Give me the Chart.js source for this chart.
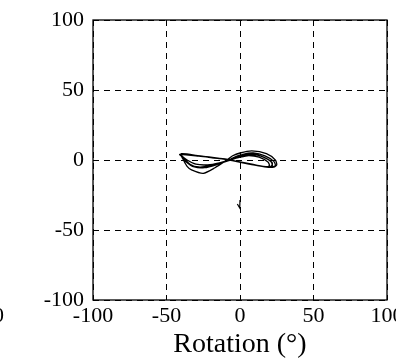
<!DOCTYPE html>
<html>
<head>
<meta charset="utf-8">
<script src="https://cdn.jsdelivr.net/npm/chart.js@4/dist/chart.umd.min.js"></script>
<style>
  html, body { margin: 0; padding: 0; background: #fff; overflow: hidden; }
  #wrap { width: 396px; height: 362px; }
</style>
</head>
<body>
<div id="wrap"><canvas id="c" width="396" height="362"></canvas></div>
<script>
// trajectory (rotation in degrees, vertical value)
const rotX = [
  -40, -30, -20, -10, 0, 10, 18, 23, 25, 24, 18, 8, 0, -5, -9, -17, -25, -33, -36, -39,
  -40, -28, -18, -8, 2, 12, 20, 24, 23, 17, 9, 2, -4, -12, -20, -28, -34, -39,
  -41, -30, -19, -9, 1, 11, 19, 22, 21, 15, 7, 1, -6, -14, -22, -30, -36, -40,
  -39, -29, -19, -9, 0, 10, 17, 20, 19, 13, 6, 0, -7, -15, -24, -31, -37, -40,
  -40, -30, -20, -10, 0, 9, 16, 21, 22, 16, 8, 0, -6
];
const rotY = [
  4, 3, 2, 0.5, -1.5, -3.5, -5, -5, -3.5, 0, 4.5, 6.5, 5, 3, 0, -5.5, -9.5, -7, -4.5, 1,
  4.5, 3, 1.5, 0.3, -2, -4, -5, -4, -1, 3, 5, 4, 1.5, -1.5, -4, -5, -3, 2,
  4, 3.2, 1.8, 0.5, -1.8, -3.8, -5.2, -4, -1, 2.5, 4, 3, 0.5, -2, -3.5, -3, 0, 3.5,
  3.8, 3, 1.6, 0.4, -1.5, -3.5, -4.8, -4, -1.5, 2, 3.2, 2, -0.2, -3, -5.5, -5, -1, 3,
  4.2, 3.1, 1.9, 0.6, -1.4, -3.2, -4.6, -4.5, -2, 2, 4.5, 3.5, 1
];
// small stray stroke below the centre
const markX = [-1.8, -0.2, 0];
const markY = [-31.4, -34.3, -28.6];

const ticks = [-100, -50, 0, 50, 100];

const serif = "'Liberation Serif', 'Times New Roman', serif";

const toPts = (xs, ys) => xs.map((x, i) => ({ x: x, y: ys[i] }));

// frame round the plot area + the clipped label from the panel on the left
const frame = {
  id: 'frame',
  afterDatasetsDraw(chart) {
    const { ctx, chartArea: a } = chart;
    ctx.save();
    ctx.strokeStyle = '#000';
    ctx.lineWidth = 1.3;
    ctx.strokeRect(a.left, a.top, a.right - a.left, a.bottom - a.top);
    ctx.restore();
  },
  afterDraw(chart) {
    const ctx = chart.ctx;
    ctx.save();
    ctx.fillStyle = '#000';
    ctx.font = '22px ' + serif;
    ctx.textAlign = 'right';
    ctx.textBaseline = 'middle';
    ctx.fillText('100', 4, 316);
    ctx.restore();
  }
};

const gridOpts = {
  color: '#000',
  lineWidth: 1,
  drawTicks: false
};

new Chart(document.getElementById('c'), {
  type: 'scatter',
  data: {
    datasets: [
      {
        data: toPts(rotX, rotY),
        showLine: true,
        borderColor: '#000',
        borderWidth: 1.3,
        pointRadius: 0,
        tension: 0.25
      },
      {
        data: toPts(markX, markY),
        showLine: true,
        borderColor: '#000',
        borderWidth: 1.2,
        pointRadius: 0,
        tension: 0
      }
    ]
  },
  options: {
    responsive: false,
    animation: false,
    layout: { padding: { left: 0, right: 9, top: 20, bottom: 0 } },
    plugins: { legend: { display: false }, tooltip: { enabled: false } },
    scales: {
      x: {
        type: 'linear',
        min: -100, max: 100,
        afterBuildTicks: s => { s.ticks = ticks.map(v => ({ value: v })); },
        afterFit: s => { s.height = 62; s.paddingLeft = 0; s.paddingRight = 0; },
        grid: gridOpts,
        border: { display: false, dash: [6, 5] },
        ticks: { color: '#000', padding: 3, maxRotation: 0, autoSkip: false, font: { family: serif, size: 22 } },
        title: {
          display: true,
          text: 'Rotation (°)',
          color: '#000',
          font: { family: serif, size: 28 },
          padding: { top: 0, bottom: 1 }
        }
      },
      y: {
        type: 'linear',
        min: -100, max: 100,
        afterBuildTicks: s => { s.ticks = ticks.map(v => ({ value: v })); },
        afterFit: s => { s.width = 93; s.paddingTop = 0; s.paddingBottom = 0; },
        grid: gridOpts,
        border: { display: false, dash: [6, 5] },
        ticks: { color: '#000', padding: 9, autoSkip: false, font: { family: serif, size: 22 } }
      }
    }
  },
  plugins: [frame]
});
</script>
</body>
</html>
